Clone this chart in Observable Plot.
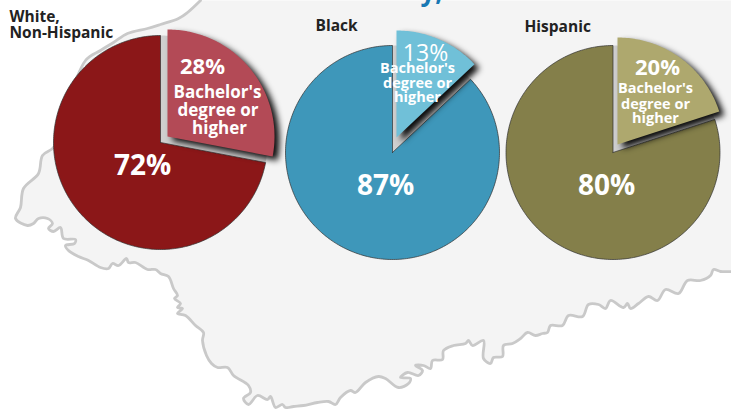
<!DOCTYPE html>
<html>
<head>
<meta charset="utf-8">
<script src="https://cdn.jsdelivr.net/npm/d3@7"></script>
<script src="https://cdn.jsdelivr.net/npm/@observablehq/plot@0.6"></script>
<style>
html,body{margin:0;padding:0;background:#fff;overflow:hidden}
svg{display:block}
</style>
</head>
<body>
<div id="chart"></div>
<script>
const groupNames = ["White,\nNon-Hispanic", "Black", "Hispanic"];
const bachelorShare = [28, 13, 20];
const otherShare = [72, 87, 80];
const degreeLabel = ["Bachelor's", "degree or", "higher"];
const mainColors = ["#8b1718", "#3e97ba", "#847f4a"];
const sliceColors = ["#b34a56", "#70c0d8", "#aea86e"];

const outlineX = [200,187,178,160,147,127,113,100,85,60,53,42,38,23,20,15,27,33,38,47,52,48,53,60,63,75,74,65,68,78,88,100,108,112,118,126,128,135,147,155,160,168,173,177,174,180,177,182,177,185,195,203,202,206,211,217,227,233,248,250,243,248,257,267,270,275,282,285,293,303,317,328,335,340,350,355,365,378,385,398,408,410,400,407,418,422,415,423,430,432,442,443,453,465,468,472,483,483,490,493,502,503,512,520,527,535,542,547,550,562,568,582,588,598,605,610,623,627,630,638,648,657,665,678,687,700,710,713,720,731];
const outlineY = [0,12,18,24,28,33,42,50,60,125,147,155,173,188,207,218,225,223,218,218,223,228,231,227,238,239,243,245,250,256,260,267,268,263,265,258,262,262,269,269,273,276,288,295,298,303,307,308,313,315,325,332,340,355,363,367,367,375,385,392,398,404,395,399,396,407,404,407,406,405,402,401,404,397,390,392,382,376,378,387,383,378,377,372,375,370,365,365,368,360,359,350,345,343,340,345,340,358,363,357,356,345,343,338,332,335,333,332,325,325,315,316,304,304,308,300,307,303,308,303,296,300,289,293,280,280,275,269,271,271];

// layout (pixels of the picture)
const W = 731, H = 409, R = 107;
const centers = [[160,142],[392,152],[612.5,152]];
const offsets = [[7,-6],[4,-15],[4.5,-8]];
const titleSpots = [[9,25],[315,26],[524,27]];
const bigSpots = [[142,166],[385,186],[606,186]];
const smallSpots = [[202,66],[425,53],[657,67]];
const smallSizes = [22,23,22];
const labelSpots = [
  [[217,92],[217.5,110],[219,128]],
  [[417,68],[417,83],[417,97]],
  [[655,88],[655,104],[655,118]]
];
const labelSizes = [17,14.5,14.5];
const FONT = "'Open Sans', sans-serif";

function wedge(c, a0, a1) {
  const pts = [{x:c[0], y:c[1]}];
  const n = Math.max(2, Math.ceil((a1-a0)*180/Math.PI));
  for (let i=0;i<=n;i++){
    const a = a0+(a1-a0)*i/n;
    pts.push({x:c[0]+R*Math.sin(a), y:c[1]-R*Math.cos(a)});
  }
  pts.push({x:c[0], y:c[1]});
  return pts;
}
const pieAngles = bachelorShare.map((b,i)=>d3.pie().sort(null)([b,otherShare[i]]));

const outline = outlineX.map((x,i)=>({x,y:outlineY[i]}));
const region = [...outline,{x:W,y:0}];

const marks = [
  Plot.line(region,{x:"x",y:"y",fill:"#f4f4f4",stroke:"none",curve:"linear"}),
  Plot.line(outline,{x:"x",y:"y",stroke:"#c9c9c9",strokeWidth:2.8,curve:"catmull-rom"}),
  Plot.text(["y,"],{x:[431],y:[-8],text:d=>d,fill:"#1878b4",fontSize:26,fontWeight:700,fontFamily:FONT})
];
centers.forEach((c,i)=>{
  const [s,m] = pieAngles[i];
  marks.push(
    Plot.line(wedge(c,s.startAngle,s.endAngle),{x:"x",y:"y",fill:"#cfcfcf",stroke:"none",curve:"linear"}),
    Plot.line(wedge(c,m.startAngle,m.endAngle),{x:"x",y:"y",fill:mainColors[i],stroke:"#2f2f2f",strokeWidth:0.7,curve:"linear"}),
    Plot.line(wedge([c[0]+offsets[i][0],c[1]+offsets[i][1]],s.startAngle,s.endAngle),{x:"x",y:"y",fill:sliceColors[i],stroke:"none",curve:"linear",imageFilter:"drop-shadow(5px 4px 3px rgba(0,0,0,0.95))"})
  );
  groupNames[i].split("\n").forEach((t,k)=>{
    marks.push(Plot.text([t],{x:[titleSpots[i][0]],y:[i===0?titleSpots[i][1]-8+k*16:titleSpots[i][1]],text:d=>d,textAnchor:"start",fill:"#222",fontSize:15.5,fontWeight:700,fontFamily:FONT}));
  });
  marks.push(Plot.text([otherShare[i]+"%"],{x:[bigSpots[i][0]],y:[bigSpots[i][1]],text:d=>d,fill:"#fff",fontSize:28,fontWeight:700,fontFamily:FONT}));
  marks.push(Plot.text([bachelorShare[i]+"%"],{x:[smallSpots[i][0]],y:[smallSpots[i][1]],text:d=>d,fill:"#fff",fontSize:smallSizes[i],fontWeight:i===1?500:700,fontFamily:FONT}));
  degreeLabel.forEach((t,k)=>{
    marks.push(Plot.text([t],{x:[labelSpots[i][k][0]],y:[labelSpots[i][k][1]],text:d=>d,fill:"#fff",fontSize:labelSizes[i],fontWeight:700,fontFamily:FONT}));
  });
});

const chart = Plot.plot({
  width:W,height:H,margin:0,
  style:{background:"#fff"},
  x:{domain:[0,W],range:[0,W],axis:null},
  y:{domain:[0,H],range:[0,H],axis:null},
  marks
});
document.getElementById("chart").append(chart);
</script>
</body>
</html>
